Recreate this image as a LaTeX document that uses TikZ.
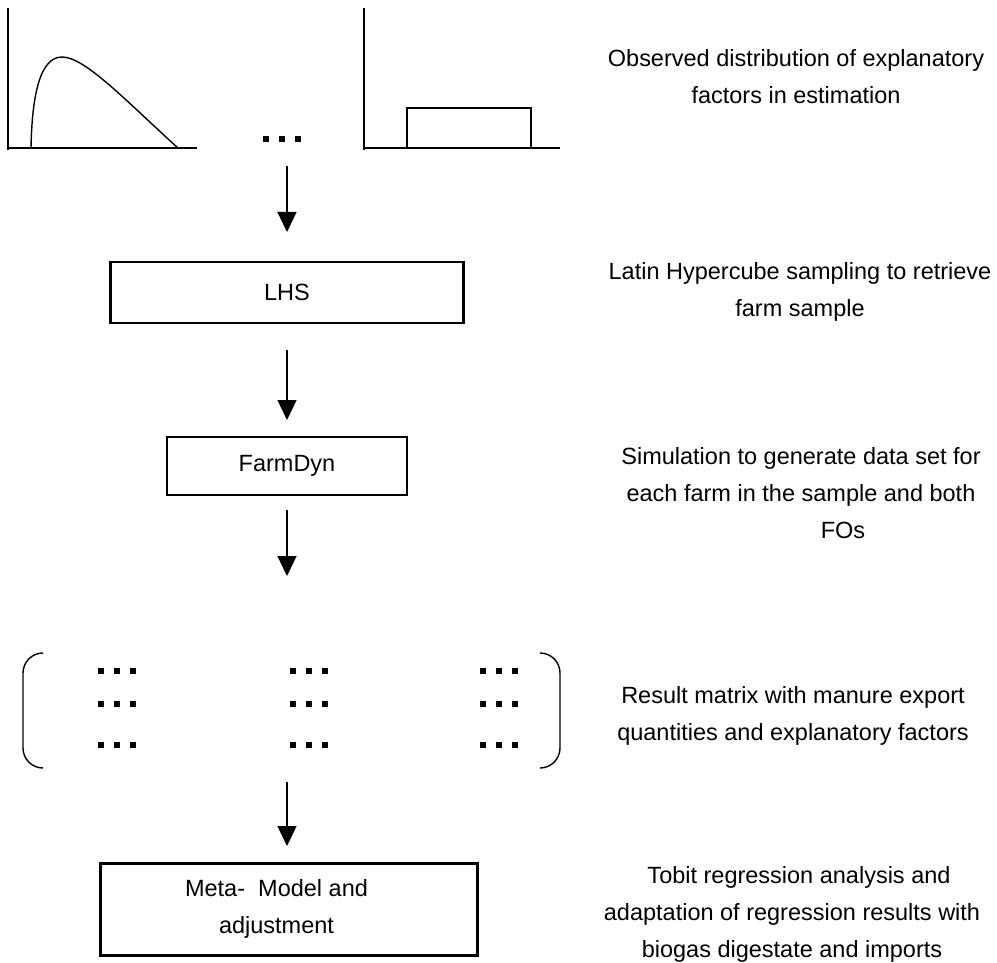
\documentclass[tikz,border=0pt]{standalone}
\usepackage{fontspec}
\setmainfont{Liberation Sans}
\usetikzlibrary{arrows.meta}
\tikzset{
  axisline/.style={line width=1.4pt},
  flowbox/.style={draw, line width=2.5pt, align=center, font=\fontsize{23.5}{37}\selectfont},
  sidetext/.style={align=center, font=\fontsize{23.5}{37}\selectfont, inner sep=0pt},
  flowarrow/.style={line width=1.4pt, -{Triangle[width=19pt,length=20pt]}},
  dotsq/.style={fill=black},
  bracketline/.style={line width=1.4pt, rounded corners=20pt}
}
\newcommand{\sqdots}[2]{%
  \foreach \dx in {0,16,32} {\fill[dotsq] (#1+\dx-2.6,#2-2.6) rectangle (#1+\dx+2.6,#2+2.6);}}
\begin{document}
\begin{tikzpicture}[x=1pt,y=-1pt]
\useasboundingbox (0,0) rectangle (997,963);
% left distribution plot
\draw[axisline] (8,8) -- (8,150);
\draw[axisline] (7,148) -- (197,148);
\draw[line width=1.4pt] (31,148) .. controls (32,95) and (40,57) .. (62,57)
  .. controls (85,57) and (125,100) .. (178,148);
% dots between plots
\sqdots{266}{139}
% right distribution plot
\draw[axisline] (364,8) -- (364,150);
\draw[axisline] (363,148) -- (560,148);
\draw[line width=2.6pt] (407,148) rectangle (531,108);
% boxes
\node[flowbox, minimum width=353pt, minimum height=61pt] (lhs) at (287,292.5) {LHS};
\node[flowbox, minimum width=240pt, minimum height=58pt] (farm) at (287,466) {FarmDyn};
\node[flowbox, minimum width=377pt, minimum height=92pt, line width=3pt] (meta) at (288.5,909) {Meta-\ \ Model and\hspace*{24pt}\\adjustment\hspace*{24pt}};
% arrow coordinates
\coordinate (a1s) at (287,166);
\coordinate (a1e) at (287,232);
\coordinate (a2s) at (287,350);
\coordinate (a2e) at (287,420);
\coordinate (a3s) at (287,510);
\coordinate (a3e) at (287,576);
\coordinate (a4s) at (287,782);
\coordinate (a4e) at (287,846);
\draw[flowarrow] (a1s) -- (a1e);
\draw[flowarrow] (a2s) -- (a2e);
\draw[flowarrow] (a3s) -- (a3e);
\draw[flowarrow] (a4s) -- (a4e);
% matrix
\draw[bracketline] (43,653) -- (23,653) -- (23,768) -- (43,768);
\draw[bracketline] (542,653) -- (560,653) -- (560,768) -- (542,768);
\foreach \cx in {101,293,483} {
  \foreach \cy in {671,704,745} {
    \sqdots{\cx}{\cy}
  }
}
% side texts
\node[sidetext] (t1) at (796,77) {Observed distribution of explanatory\\factors in estimation};
\node[sidetext] (t2) at (800,292) {Latin Hypercube sampling to retrieve\\farm sample};
\node[sidetext] (t3) at (801,493) {Simulation to generate data set for\\each farm in the sample and both\\\hspace*{84pt}FOs};
\node[sidetext] (t4) at (793,716) {Result matrix with manure export\\quantities and explanatory factors};
\node[sidetext] (t5) at (792,914) {\hspace*{14pt}Tobit regression analysis and\\adaptation of regression results with\hspace*{16pt}\\biogas digestate and imports};
\end{tikzpicture}
\end{document}
